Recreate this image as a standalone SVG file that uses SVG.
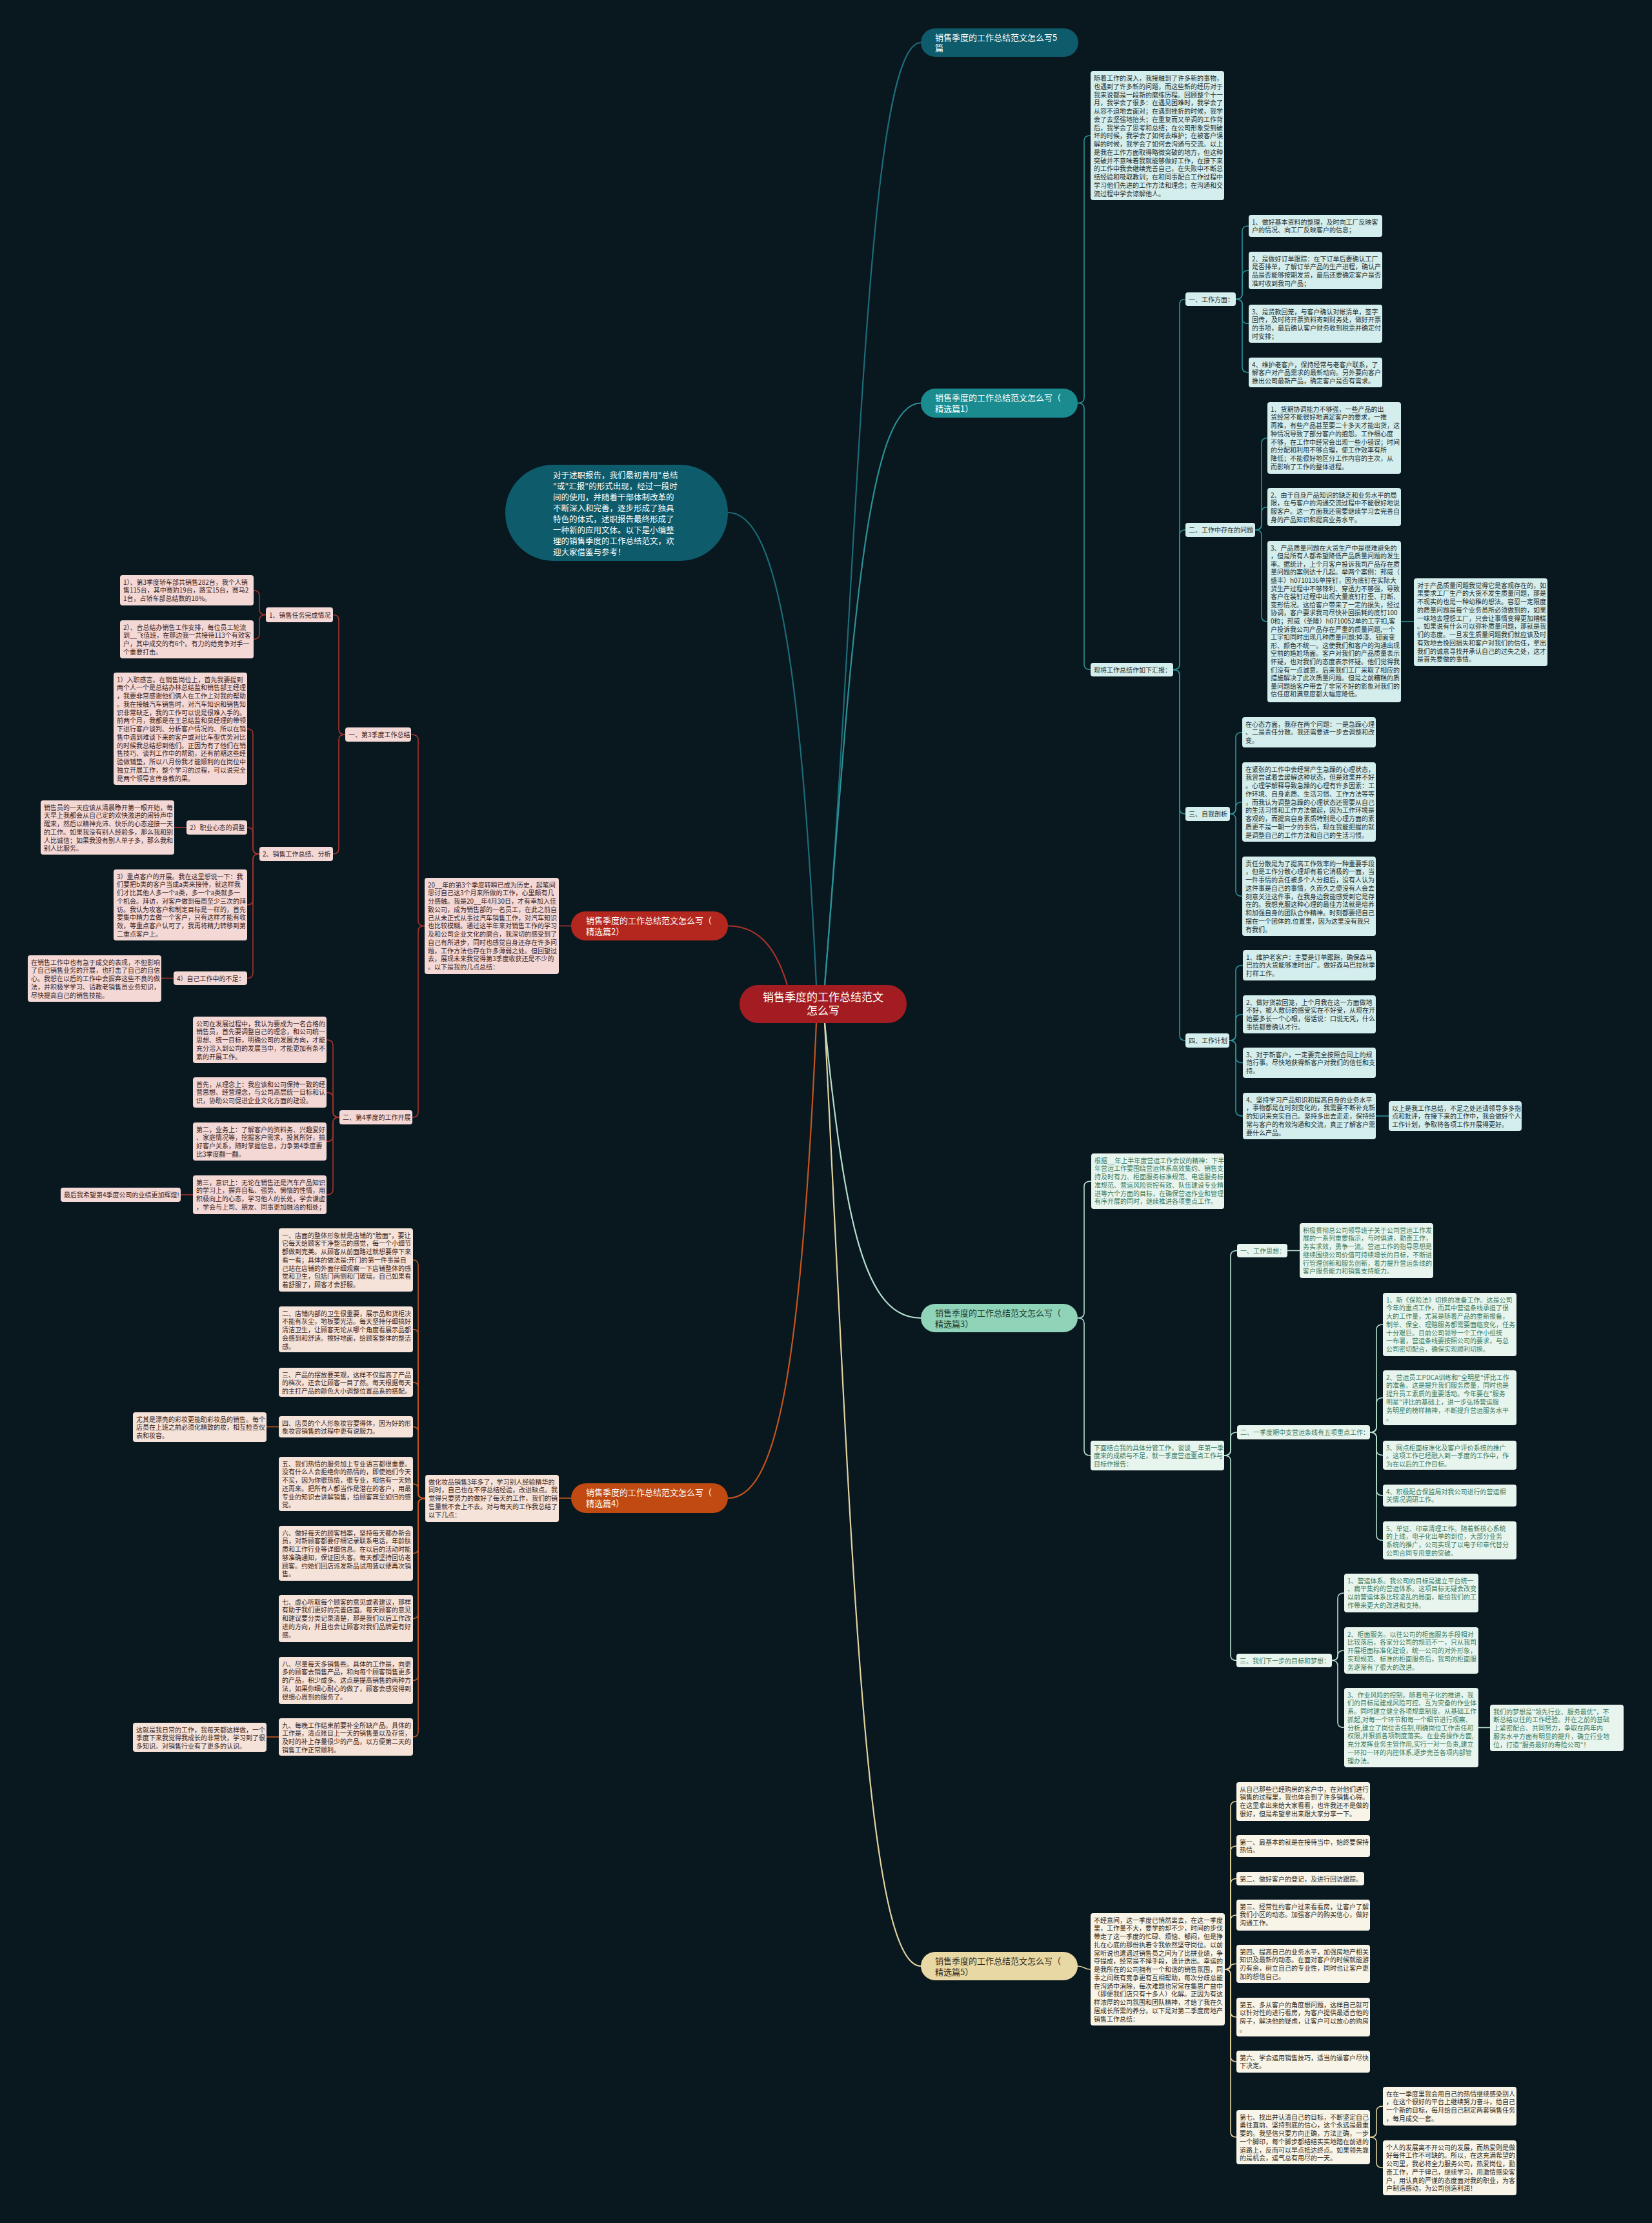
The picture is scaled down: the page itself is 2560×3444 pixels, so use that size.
<svg xmlns="http://www.w3.org/2000/svg" width="2560" height="3444" viewBox="0 0 2560 3444">
<style>
text{font-family:"Noto Sans CJK SC","Noto Sans",sans-serif}
.t{font-size:10px}
.h{font-size:13px}
.k1{fill:#1f2d2d}.k2{fill:#3a1e1e}.k3{fill:#3b7a5c}.k4{fill:#3a2418}.k5{fill:#2e2a22}.w{fill:#ffffff}
.f1{fill:#d4eded}.f2{fill:#f3d8d5}.f3{fill:#e8f5ef}.f4{fill:#f5e2d8}.f5{fill:#f8f4e8}
#connectors path{fill:none;stroke-width:1.6}
.e0{stroke:#1c6c78}.e1{stroke:#2b9296}.e2{stroke:#a9332b}.e3{stroke:#b5e0ce}.e4{stroke:#c6561d}.e5{stroke:#e2d3a0}
#connectors path.r{stroke-width:2.2}
</style>
<rect width="2560" height="3444" fill="#09171f"/>
<g id="connectors">
<path class="e0 r" d="M1278 1526 C1330 900 1340 66 1427 66"/>
<path class="e1 r" d="M1278 1526 C1320 1000 1340 624.5 1427 624.5"/>
<path class="e0 r" d="M1265 1526 C1240 1000 1200 794 1128 794"/>
<path class="e2 r" d="M1220 1526 C1200 1460 1170 1434.5 1128 1434.5"/>
<path class="e3 r" d="M1278 1585 C1310 1900 1340 2042 1427 2042"/>
<path class="e4 r" d="M1265 1585 C1240 2150 1200 2321 1128 2321"/>
<path class="e5 r" d="M1278 1585 C1320 2400 1340 3046 1427 3046"/>
<path class="e1" d="M1670 624.5 Q1680 624.5 1680 616.5 V218 Q1680 210 1690 210"/>
<path class="e1" d="M1670 624.5 Q1680 624.5 1680 632.5 V1029.5 Q1680 1037.5 1690 1037.5"/>
<path class="e1" d="M1818 1037.5 Q1828 1037.5 1828 1029.5 V471.5 Q1828 463.5 1837 463.5"/>
<path class="e1" d="M1818 1037.5 Q1828 1037.5 1828 1029.5 V829 Q1828 821 1837 821"/>
<path class="e1" d="M1818 1037.5 Q1828 1037.5 1828 1045.5 V1253 Q1828 1261 1837 1261"/>
<path class="e1" d="M1818 1037.5 Q1828 1037.5 1828 1045.5 V1604 Q1828 1612 1837 1612"/>
<path class="e1" d="M1915 463.5 Q1925 463.5 1925 455.5 V358 Q1925 350 1935 350"/>
<path class="e1" d="M1915 463.5 Q1925 463.5 1925 455.5 V427 Q1925 419 1935 419"/>
<path class="e1" d="M1915 463.5 Q1925 463.5 1925 471.5 V493.5 Q1925 501.5 1935 501.5"/>
<path class="e1" d="M1915 463.5 Q1925 463.5 1925 471.5 V569 Q1925 577 1935 577"/>
<path class="e1" d="M1945 821 Q1955 821 1955 813 V686.5 Q1955 678.5 1964 678.5"/>
<path class="e1" d="M1945 821 Q1955 821 1955 813 V793.5 Q1955 785.5 1964 785.5"/>
<path class="e1" d="M1945 821 Q1955 821 1955 829 V955 Q1955 963 1964 963"/>
<path class="e1" d="M2171 963 H2191"/>
<path class="e1" d="M1906 1261 Q1915 1261 1915 1253 V1142.5 Q1915 1134.5 1925 1134.5"/>
<path class="e1" d="M1906 1261 Q1915 1261 1915 1253 V1250.5 Q1915 1242.5 1925 1242.5"/>
<path class="e1" d="M1906 1261 Q1915 1261 1915 1269 V1380.5 Q1915 1388.5 1925 1388.5"/>
<path class="e1" d="M1905 1612 Q1915 1612 1915 1604 V1503.5 Q1915 1495.5 1926 1495.5"/>
<path class="e1" d="M1905 1612 Q1915 1612 1915 1604 V1579.5 Q1915 1571.5 1926 1571.5"/>
<path class="e1" d="M1905 1612 Q1915 1612 1915 1620 V1638.5 Q1915 1646.5 1926 1646.5"/>
<path class="e1" d="M1905 1612 Q1915 1612 1915 1620 V1721 Q1915 1729 1926 1729"/>
<path class="e1" d="M2132 1729 H2152"/>
<path class="e3" d="M1670 2042 Q1680 2042 1680 2034 V1838 Q1680 1830 1691 1830"/>
<path class="e3" d="M1670 2042 Q1680 2042 1680 2050 V2247 Q1680 2255 1690 2255"/>
<path class="e3" d="M1897 2255 Q1907 2255 1907 2247 V1945.5 Q1907 1937.5 1917 1937.5"/>
<path class="e3" d="M1897 2255 Q1907 2255 1907 2247 V2227 Q1907 2219 1917 2219"/>
<path class="e3" d="M1897 2255 Q1907 2255 1907 2263 V2564.5 Q1907 2572.5 1916 2572.5"/>
<path class="e3" d="M1995 1937.5 H2014"/>
<path class="e3" d="M2123 2219 Q2133 2219 2133 2211 V2060 Q2133 2052 2143 2052"/>
<path class="e3" d="M2123 2219 Q2133 2219 2133 2211 V2173.5 Q2133 2165.5 2143 2165.5"/>
<path class="e3" d="M2123 2219 Q2133 2219 2133 2227 V2246.5 Q2133 2254.5 2143 2254.5"/>
<path class="e3" d="M2123 2219 Q2133 2219 2133 2227 V2309 Q2133 2317 2143 2317"/>
<path class="e3" d="M2123 2219 Q2133 2219 2133 2227 V2378.5 Q2133 2386.5 2143 2386.5"/>
<path class="e3" d="M2064 2572.5 Q2073 2572.5 2073 2564.5 V2476 Q2073 2468 2083 2468"/>
<path class="e3" d="M2064 2572.5 Q2073 2572.5 2073 2565 Q2073 2557 2083 2557"/>
<path class="e3" d="M2064 2572.5 Q2073 2572.5 2073 2580.5 V2668.5 Q2073 2676.5 2083 2676.5"/>
<path class="e3" d="M2291 2676.5 H2309"/>
<path class="e5" d="M1670 3046 C1680 3046 1680 3051 1690 3051"/>
<path class="e5" d="M1898 3051 Q1907 3051 1907 3043 V2799 Q1907 2791 1916 2791"/>
<path class="e5" d="M1898 3051 Q1907 3051 1907 3043 V2868 Q1907 2860 1916 2860"/>
<path class="e5" d="M1898 3051 Q1907 3051 1907 3043 V2918.5 Q1907 2910.5 1916 2910.5"/>
<path class="e5" d="M1898 3051 Q1907 3051 1907 3043 V2975 Q1907 2967 1916 2967"/>
<path class="e5" d="M1898 3051 Q1907 3051 1907 3047 Q1907 3042.5 1916 3042.5"/>
<path class="e5" d="M1898 3051 Q1907 3051 1907 3059 V3117 Q1907 3125 1916 3125"/>
<path class="e5" d="M1898 3051 Q1907 3051 1907 3059 V3186 Q1907 3194 1916 3194"/>
<path class="e5" d="M1898 3051 Q1907 3051 1907 3059 V3303 Q1907 3311 1916 3311"/>
<path class="e5" d="M2123 3311 Q2133 3311 2133 3303 V3271 Q2133 3263 2143 3263"/>
<path class="e5" d="M2123 3311 Q2133 3311 2133 3319 V3350.5 Q2133 3358.5 2143 3358.5"/>
<path class="e2" d="M885 1434.5 H866"/>
<path class="e2" d="M658 1434.5 Q648 1434.5 648 1426.5 V1146 Q648 1138 637 1138"/>
<path class="e2" d="M658 1434.5 Q648 1434.5 648 1442.5 V1723 Q648 1731 639 1731"/>
<path class="e2" d="M535 1138 Q525 1138 525 1130 V960.5 Q525 952.5 516 952.5"/>
<path class="e2" d="M535 1138 Q525 1138 525 1146 V1315 Q525 1323 516 1323"/>
<path class="e2" d="M412 952.5 Q402 952.5 402 944.5 V922.5 Q402 914.5 392 914.5"/>
<path class="e2" d="M412 952.5 Q402 952.5 402 960.5 V982.5 Q402 990.5 392 990.5"/>
<path class="e2" d="M402 1323 Q392 1323 392 1315 V1137 Q392 1129 383 1129"/>
<path class="e2" d="M402 1323 Q392 1323 392 1315 V1290 Q392 1282 383 1282"/>
<path class="e2" d="M402 1323 Q392 1323 392 1331 V1394 Q392 1402 383 1402"/>
<path class="e2" d="M402 1323 Q392 1323 392 1331 V1507.5 Q392 1515.5 383 1515.5"/>
<path class="e2" d="M289 1282 H270"/>
<path class="e2" d="M269 1515.5 H250"/>
<path class="e2" d="M526 1731 Q516 1731 516 1723 V1619 Q516 1611 506 1611"/>
<path class="e2" d="M526 1731 Q516 1731 516 1723 V1700.5 Q516 1692.5 506 1692.5"/>
<path class="e2" d="M526 1731 Q516 1731 516 1739 V1760.5 Q516 1768.5 506 1768.5"/>
<path class="e2" d="M526 1731 Q516 1731 516 1739 V1843 Q516 1851 506 1851"/>
<path class="e2" d="M299 1851 H280"/>
<path class="e4" d="M885 2321 H866"/>
<path class="e4" d="M659 2321.5 Q648 2321.5 648 2313.5 V1960 Q648 1952 640 1952"/>
<path class="e4" d="M659 2321.5 Q648 2321.5 648 2313.5 V2067.5 Q648 2059.5 640 2059.5"/>
<path class="e4" d="M659 2321.5 Q648 2321.5 648 2313.5 V2149.5 Q648 2141.5 640 2141.5"/>
<path class="e4" d="M659 2321.5 Q648 2321.5 648 2313.5 V2218.5 Q648 2210.5 640 2210.5"/>
<path class="e4" d="M659 2321.5 Q648 2321.5 648 2313.5 V2307 Q648 2299 640 2299"/>
<path class="e4" d="M659 2321.5 Q648 2321.5 648 2329.5 V2398.5 Q648 2406.5 640 2406.5"/>
<path class="e4" d="M659 2321.5 Q648 2321.5 648 2329.5 V2499.5 Q648 2507.5 640 2507.5"/>
<path class="e4" d="M659 2321.5 Q648 2321.5 648 2329.5 V2595.5 Q648 2603.5 640 2603.5"/>
<path class="e4" d="M659 2321.5 Q648 2321.5 648 2329.5 V2683 Q648 2691 640 2691"/>
<path class="e4" d="M432 2210.5 H413"/>
<path class="e4" d="M432 2691 H413"/>
</g>

<g id="root"><rect x="1146" y="1526" width="259" height="59" rx="29" fill="#a31c22"/><text class="w" font-size="17" text-anchor="middle" x="1275.5" y="1551"><tspan x="1275.5">销售季度的工作总结范文</tspan><tspan x="1275.5" dy="21">怎么写</tspan></text></g>

<g id="title5"><rect x="1427" y="44" width="244" height="44" rx="22" fill="#0d5b6b"/><text class="h w" x="1449" y="62.5"><tspan x="1449">销售季度的工作总结范文怎么写5</tspan><tspan x="1449" dy="16.5">篇</tspan></text></g>

<g id="intro"><rect x="783" y="720" width="345" height="149" rx="74" fill="#0d5b6b"/><text class="w" font-size="12.5" x="857" y="741"><tspan x="857">对于述职报告，我们最初曾用"总结</tspan><tspan x="857" dy="17">"或"汇报"的形式出现，经过一段时</tspan><tspan x="857" dy="17">间的使用，并随着干部体制改革的</tspan><tspan x="857" dy="17">不断深入和完善，逐步形成了独具</tspan><tspan x="857" dy="17">特色的体式，述职报告最终形成了</tspan><tspan x="857" dy="17">一种新的应用文体。以下是小编整</tspan><tspan x="857" dy="17">理的销售季度的工作总结范文，欢</tspan><tspan x="857" dy="17">迎大家借鉴与参考！</tspan></text></g>

<!-- Branch 1 -->
<g id="b1"><rect x="1427" y="602" width="243" height="45" rx="22" fill="#1a8b8f"/><text class="h w" x="1449" y="621"><tspan x="1449">销售季度的工作总结范文怎么写（</tspan><tspan x="1449" dy="16.5">精选篇1）</tspan></text></g>
<g id="b1-intro"><rect class="f1" x="1690" y="110" width="207" height="200" rx="4"/><text class="t k1" x="1695" y="125"><tspan x="1695">随着工作的深入，我接触到了许多新的事物，</tspan><tspan x="1695" dy="12.75">也遇到了许多新的问题，而这些新的经历对于</tspan><tspan x="1695" dy="12.75">我来说都是一段新的磨练历程。回顾整个十一</tspan><tspan x="1695" dy="12.75">月，我学会了很多：在遇见困难时，我学会了</tspan><tspan x="1695" dy="12.75">从容不迫地去面对；在遇到挫折的时候，我学</tspan><tspan x="1695" dy="12.75">会了去坚强地抬头；在重复而又单调的工作背</tspan><tspan x="1695" dy="12.75">后，我学会了思考和总结；在公司形象受到破</tspan><tspan x="1695" dy="12.75">坏的时候，我学会了如何去维护；在被客户误</tspan><tspan x="1695" dy="12.75">解的时候，我学会了如何去沟通与交流。以上</tspan><tspan x="1695" dy="12.75">是我在工作方面取得略微突破的地方，但这种</tspan><tspan x="1695" dy="12.75">突破并不意味着我就能够做好工作，在接下来</tspan><tspan x="1695" dy="12.75">的工作中我会继续完善自己，在失败中不断总</tspan><tspan x="1695" dy="12.75">结经验和吸取教训；在和同事配合工作过程中</tspan><tspan x="1695" dy="12.75">学习他们先进的工作方法和理念；在沟通和交</tspan><tspan x="1695" dy="12.75">流过程中学会谅解他人。</tspan></text></g>
<g id="b1-report"><rect class="f1" x="1690" y="1027" width="128" height="21" rx="4"/><text class="t k1" x="1695" y="1041.5">现将工作总结作如下汇报：</text></g>
<g id="b1-s1"><rect class="f1" x="1837" y="453" width="78" height="21" rx="4"/><text class="t k1" x="1842" y="467.5">一、工作方面：</text></g>
<g id="b1-w1"><rect class="f1" x="1935" y="333" width="207" height="34" rx="4"/><text class="t k1" x="1940" y="347.5"><tspan x="1940">1、做好基本资料的整理，及时向工厂反映客</tspan><tspan x="1940" dy="12.75">户的情况、向工厂反映客户的信息；</tspan></text></g>
<g id="b1-w2"><rect class="f1" x="1935" y="390" width="207" height="58" rx="4"/><text class="t k1" x="1940" y="404.5"><tspan x="1940">2、是做好订单跟踪：在下订单后要确认工厂</tspan><tspan x="1940" dy="12.75">是否排单，了解订单产品的生产进程，确认产</tspan><tspan x="1940" dy="12.75">品是否能够按期发货，最后还要确定客户是否</tspan><tspan x="1940" dy="12.75">准时收到我司产品；</tspan></text></g>
<g id="b1-w3"><rect class="f1" x="1935" y="472" width="207" height="59" rx="4"/><text class="t k1" x="1940" y="486.5"><tspan x="1940">3、是货款回笼，与客户确认对帐清单，签字</tspan><tspan x="1940" dy="12.75">回传，及时将开票资料寄到财务处，做好开票</tspan><tspan x="1940" dy="12.75">的事项，最后确认客户财务收到税票并确定付</tspan><tspan x="1940" dy="12.75">时安排；</tspan></text></g>
<g id="b1-w4"><rect class="f1" x="1935" y="554" width="207" height="46" rx="4"/><text class="t k1" x="1940" y="568.5"><tspan x="1940">4、维护老客户，保持经常与老客户联系，了</tspan><tspan x="1940" dy="12.75">解客户对产品需求的最新动向。另外要向客户</tspan><tspan x="1940" dy="12.75">推出公司最新产品，确定客户是否有需求。</tspan></text></g>
<g id="b1-s2"><rect class="f1" x="1837" y="810" width="108" height="22" rx="4"/><text class="t k1" x="1842" y="825">二、工作中存在的问题</text></g>
<g id="b1-p1"><rect class="f1" x="1964" y="623" width="207" height="111" rx="4"/><text class="t k1" x="1969" y="637.5"><tspan x="1969">1、货期协调能力不够强，一些产品的出</tspan><tspan x="1969" dy="12.75">货经常不能很好地满足客户的要求，一推</tspan><tspan x="1969" dy="12.75">再推，有些产品甚至要二十多天才能出货，这</tspan><tspan x="1969" dy="12.75">种情况导致了部分客户的抱怨。工作细心度</tspan><tspan x="1969" dy="12.75">不够，在工作中经常会出现一些小错误；时间</tspan><tspan x="1969" dy="12.75">的分配和利用不够合理，使工作效率有所</tspan><tspan x="1969" dy="12.75">降低；不能很好地区分工作内容的主次，从</tspan><tspan x="1969" dy="12.75">而影响了工作的整体进程。</tspan></text></g>
<g id="b1-p2"><rect class="f1" x="1964" y="756" width="207" height="59" rx="4"/><text class="t k1" x="1969" y="770.5"><tspan x="1969">2、由于自身产品知识的缺乏和业务水平的局</tspan><tspan x="1969" dy="12.75">限，在与客户的沟通交流过程中不能很好地说</tspan><tspan x="1969" dy="12.75">服客户。这一方面我还需要继续学习去完善自</tspan><tspan x="1969" dy="12.75">身的产品知识和提高业务水平。</tspan></text></g>
<g id="b1-p3"><rect class="f1" x="1964" y="838" width="207" height="250" rx="4"/><text class="t k1" x="1969" y="852.5"><tspan x="1969">3、产品质量问题在大货生产中是很难避免的</tspan><tspan x="1969" dy="12.6">，但是所有人都希望降低产品质量问题的发生</tspan><tspan x="1969" dy="12.6">率。据统计，上个月客户投诉我司产品存在质</tspan><tspan x="1969" dy="12.6">量问题的案例达十几起。举两个案例：邦威（</tspan><tspan x="1969" dy="12.6">盛丰）h0710136单撞钉，因为底钉在实际大</tspan><tspan x="1969" dy="12.6">货生产过程中不够锋利、穿透力不够强，导致</tspan><tspan x="1969" dy="12.6">客户在装钉过程中出现大量底钉打歪、打断、</tspan><tspan x="1969" dy="12.6">变形情况。这给客户带来了一定的损失，经过</tspan><tspan x="1969" dy="12.6">协调，客户要求我司尽快补回损耗的底钉100</tspan><tspan x="1969" dy="12.6">0粒；邦威（圣隆）h0710052单的工字扣,客</tspan><tspan x="1969" dy="12.6">户投诉我公司产品存在严重的质量问题,一个</tspan><tspan x="1969" dy="12.6">工字扣同时出现几种质量问题:掉漆、钮面变</tspan><tspan x="1969" dy="12.6">形、颜色不统一。这使我们和客户的沟通出现</tspan><tspan x="1969" dy="12.6">空前的尴尬场面。客户对我们的产品质量表示</tspan><tspan x="1969" dy="12.6">怀疑，也对我们的态度表示怀疑。他们觉得我</tspan><tspan x="1969" dy="12.6">们没有一点诚意。后来我们工厂采取了相应的</tspan><tspan x="1969" dy="12.6">措施解决了此次质量问题。但是之前糟糕的质</tspan><tspan x="1969" dy="12.6">量问题给客户带去了非常不好的影象对我们的</tspan><tspan x="1969" dy="12.6">信任度和满意度都大幅度降低。</tspan></text></g>
<g id="b1-p3note"><rect class="f1" x="2191" y="896" width="207" height="136" rx="4"/><text class="t k1" x="2196" y="910.5"><tspan x="2196">对于产品质量问题我觉得它是客观存在的，如</tspan><tspan x="2196" dy="12.75">果要求工厂生产的大货不发生质量问题，那是</tspan><tspan x="2196" dy="12.75">不现实的也是一种幼稚的想法。容忍一定限度</tspan><tspan x="2196" dy="12.75">的质量问题是每个业务员所必须做到的，如果</tspan><tspan x="2196" dy="12.75">一味地去埋怨工厂，只会让事情变得更加糟糕</tspan><tspan x="2196" dy="12.75">。如果说有什么可以弥补质量问题，那就是我</tspan><tspan x="2196" dy="12.75">们的态度。一旦发生质量问题我们就应该及时</tspan><tspan x="2196" dy="12.75">有效地去挽回损失和客户对我们的信任，拿出</tspan><tspan x="2196" dy="12.75">我们的诚意寻找并承认自己的过失之处，这才</tspan><tspan x="2196" dy="12.75">是首先要做的事情。</tspan></text></g>
<g id="b1-s3"><rect class="f1" x="1837" y="1250" width="69" height="22" rx="4"/><text class="t k1" x="1842" y="1265">三、自我剖析</text></g>
<g id="b1-a1"><rect class="f1" x="1925" y="1111" width="207" height="47" rx="4"/><text class="t k1" x="1930" y="1125.5"><tspan x="1930">在心态方面，我存在两个问题：一是急躁心理</tspan><tspan x="1930" dy="12.75">、二是责任分散。我还需要进一步去调整和改</tspan><tspan x="1930" dy="12.75">变。</tspan></text></g>
<g id="b1-a2"><rect class="f1" x="1925" y="1181" width="207" height="123" rx="4"/><text class="t k1" x="1930" y="1195.5"><tspan x="1930">在紧张的工作中会经常产生急躁的心理状态，</tspan><tspan x="1930" dy="12.75">我曾尝试着去缓解这种状态，但是效果并不好</tspan><tspan x="1930" dy="12.75">。心理学解释导致急躁的心理有许多因素：工</tspan><tspan x="1930" dy="12.75">作环境、自身素质、生活习惯、工作方法等等</tspan><tspan x="1930" dy="12.75">，而我认为调整急躁的心理状态还需要从自己</tspan><tspan x="1930" dy="12.75">的生活习惯和工作方法做起，因为工作环境是</tspan><tspan x="1930" dy="12.75">客观的，而提高自身素质特别是心理方面的素</tspan><tspan x="1930" dy="12.75">质更不是一朝一夕的事情，现在我能把握的就</tspan><tspan x="1930" dy="12.75">是调整自己的工作方法和自己的生活习惯。</tspan></text></g>
<g id="b1-a3"><rect class="f1" x="1925" y="1327" width="207" height="123" rx="4"/><text class="t k1" x="1930" y="1341.5"><tspan x="1930">责任分散是为了提高工作效率的一种重要手段</tspan><tspan x="1930" dy="12.75">，但是工作分散心理却有着它消极的一面，当</tspan><tspan x="1930" dy="12.75">一件事情的责任被多个人分担后，没有人认为</tspan><tspan x="1930" dy="12.75">这件事是自己的事情，久而久之便没有人会去</tspan><tspan x="1930" dy="12.75">刻意关注这件事，在我身边我能感受到它是存</tspan><tspan x="1930" dy="12.75">在的。我想克服这种心理的最佳方法就是培养</tspan><tspan x="1930" dy="12.75">和加强自身的团队合作精神。时刻都要把自己</tspan><tspan x="1930" dy="12.75">摆在一个团体的.位置里，因为这里没有我只</tspan><tspan x="1930" dy="12.75">有我们。</tspan></text></g>
<g id="b1-s4"><rect class="f1" x="1837" y="1601" width="68" height="22" rx="4"/><text class="t k1" x="1842" y="1616">四、工作计划</text></g>
<g id="b1-q1"><rect class="f1" x="1926" y="1472" width="206" height="47" rx="4"/><text class="t k1" x="1931" y="1486.5"><tspan x="1931">1、维护老客户：主要是订单跟踪，确保森马</tspan><tspan x="1931" dy="12.75">巴拉的大货能够准时出厂。做好森马巴拉秋季</tspan><tspan x="1931" dy="12.75">打样工作。</tspan></text></g>
<g id="b1-q2"><rect class="f1" x="1926" y="1542" width="206" height="59" rx="4"/><text class="t k1" x="1931" y="1556.5"><tspan x="1931">2、做好货款回笼，上个月我在这一方面做地</tspan><tspan x="1931" dy="12.75">不好，被人敷衍的感受实在不好受，从现在开</tspan><tspan x="1931" dy="12.75">始要多长一个心眼，俗话说：口说无凭，什么</tspan><tspan x="1931" dy="12.75">事情都要确认才行。</tspan></text></g>
<g id="b1-q3"><rect class="f1" x="1926" y="1623" width="206" height="47" rx="4"/><text class="t k1" x="1931" y="1637.5"><tspan x="1931">3、对于新客户，一定要完全按照合同上的规</tspan><tspan x="1931" dy="12.75">范行事。尽快地获得新客户对我们的信任和支</tspan><tspan x="1931" dy="12.75">持。</tspan></text></g>
<g id="b1-q4"><rect class="f1" x="1926" y="1693" width="206" height="72" rx="4"/><text class="t k1" x="1931" y="1707.5"><tspan x="1931">4、坚持学习产品知识和提高自身的业务水平</tspan><tspan x="1931" dy="12.75">，事物都是在时刻变化的，我需要不断补充新</tspan><tspan x="1931" dy="12.75">的知识来充实自己。坚持多出去走走，保持经</tspan><tspan x="1931" dy="12.75">常与客户的有效沟通和交流，真正了解客户需</tspan><tspan x="1931" dy="12.75">要什么产品。</tspan></text></g>
<g id="b1-end"><rect class="f1" x="2152" y="1706" width="206" height="46" rx="4"/><text class="t k1" x="2157" y="1720.5"><tspan x="2157">以上是我工作总结，不足之处还请领导多多指</tspan><tspan x="2157" dy="12.75">点和批评，在接下来的工作中，我会做好个人</tspan><tspan x="2157" dy="12.75">工作计划，争取将各项工作开展得更好。</tspan></text></g>

<!-- Branch 3 -->
<g id="b3"><rect x="1427" y="2020" width="243" height="44" rx="22" fill="#8fd3b9"/><text class="h" fill="#1e3a2f" x="1449" y="2039"><tspan x="1449">销售季度的工作总结范文怎么写（</tspan><tspan x="1449" dy="16.5">精选篇3）</tspan></text></g>
<g id="b3-intro"><rect class="f3" x="1691" y="1787" width="206" height="86" rx="4"/><text class="t k3" x="1696" y="1801.5"><tspan x="1696">根据__年上半年度营运工作会议的精神：下半</tspan><tspan x="1696" dy="12.75">年营运工作要围绕营运体系高效集约、销售支</tspan><tspan x="1696" dy="12.75">持及时有力、柜面服务标准规范、电话服务标</tspan><tspan x="1696" dy="12.75">准规范、营运风险管控有效、队伍建设专业精</tspan><tspan x="1696" dy="12.75">进等六个方面的目标，在确保营运作业和管理</tspan><tspan x="1696" dy="12.75">有序开展的同时，继续推进各项重点工作。</tspan></text></g>
<g id="b3-report"><rect class="f3" x="1690" y="2232" width="207" height="46" rx="4"/><text class="t k3" x="1695" y="2246.5"><tspan x="1695">下面结合我的具体分管工作，谈谈__年第一季</tspan><tspan x="1695" dy="12.75">度来的成绩与不足，就一季度营运重点工作与</tspan><tspan x="1695" dy="12.75">目标作报告：</tspan></text></g>
<g id="b3-s1"><rect class="f3" x="1917" y="1927" width="78" height="21" rx="4"/><text class="t k3" x="1922" y="1941.5">一、工作思想：</text></g>
<g id="b3-s1leaf"><rect class="f3" x="2014" y="1895" width="207" height="85" rx="4"/><text class="t k3" x="2019" y="1909.5"><tspan x="2019">积极贯彻总公司领导班子关于公司营运工作发</tspan><tspan x="2019" dy="12.75">展的一系列重要指示，与时俱进，勤奋工作，</tspan><tspan x="2019" dy="12.75">务实求效，勇争一流。营运工作的指导思想是</tspan><tspan x="2019" dy="12.75">继续围绕公司价值可持续增长的目标，不断进</tspan><tspan x="2019" dy="12.75">行管理创新和服务创新，着力提升营运条线的</tspan><tspan x="2019" dy="12.75">客户服务能力和销售支持能力。</tspan></text></g>
<g id="b3-s2"><rect class="f3" x="1917" y="2208" width="206" height="22" rx="4"/><text class="t k3" x="1922" y="2223">二、一季度期中支营运条线有五项重点工作：</text></g>
<g id="b3-i1"><rect class="f3" x="2143" y="2003" width="207" height="98" rx="4"/><text class="t k3" x="2148" y="2017.5"><tspan x="2148">1、新《保险法》切换的准备工作。这是公司</tspan><tspan x="2148" dy="12.75">今年的重点工作，而其中营运条线承担了很</tspan><tspan x="2148" dy="12.75">大的工作量，尤其是随着产品的重新报备，</tspan><tspan x="2148" dy="12.75">制单、保全、理赔服务都需要面临变化，任务</tspan><tspan x="2148" dy="12.75">十分艰巨。目前公司领导一个工作小组统</tspan><tspan x="2148" dy="12.75">一布署，营运条线要按照公司的要求，与总</tspan><tspan x="2148" dy="12.75">公司密切配合，确保实现顺利切换。</tspan></text></g>
<g id="b3-i2"><rect class="f3" x="2143" y="2123" width="207" height="85" rx="4"/><text class="t k3" x="2148" y="2137.5"><tspan x="2148">2、营运员工PDCA训练和"全明星"评比工作</tspan><tspan x="2148" dy="12.75">的准备。这是提升我们服务质量，同时也是</tspan><tspan x="2148" dy="12.75">提升员工素质的重要活动。今年要在"服务</tspan><tspan x="2148" dy="12.75">明星"评比的基础上，进一步弘扬营运服</tspan><tspan x="2148" dy="12.75">务明星的榜样精神，不断提升营运服务水平</tspan><tspan x="2148" dy="12.75">。</tspan></text></g>
<g id="b3-i3"><rect class="f3" x="2143" y="2232" width="207" height="45" rx="4"/><text class="t k3" x="2148" y="2246.5"><tspan x="2148">3、网点柜面标准化及客户评价系统的推广</tspan><tspan x="2148" dy="12.75">。这项工作已经融入到一季度的工作中，作</tspan><tspan x="2148" dy="12.75">为在以后的工作目标。</tspan></text></g>
<g id="b3-i4"><rect class="f3" x="2143" y="2300" width="207" height="34" rx="4"/><text class="t k3" x="2148" y="2314.5"><tspan x="2148">4、积极配合保监局对我公司进行的营运相</tspan><tspan x="2148" dy="12.75">关情况调研工作。</tspan></text></g>
<g id="b3-i5"><rect class="f3" x="2143" y="2357" width="207" height="59" rx="4"/><text class="t k3" x="2148" y="2371.5"><tspan x="2148">5、单证、印章清理工作。随着新核心系统</tspan><tspan x="2148" dy="12.75">的上线，电子化出单的到位，大部分业务</tspan><tspan x="2148" dy="12.75">系统的推广，公司实现了以电子印章代替分</tspan><tspan x="2148" dy="12.75">公司合同专用章的突破。</tspan></text></g>
<g id="b3-s3"><rect class="f3" x="1916" y="2562" width="148" height="21" rx="4"/><text class="t k3" x="1921" y="2576.5">三、我们下一步的目标和梦想：</text></g>
<g id="b3-g1"><rect class="f3" x="2083" y="2438" width="208" height="60" rx="4"/><text class="t k3" x="2088" y="2452.5"><tspan x="2088">1、营运体系。我公司的目标是建立平台统一</tspan><tspan x="2088" dy="12.75">、扁平集约的营运体系。这项目标无疑会改变</tspan><tspan x="2088" dy="12.75">以前营运体系比较凌乱的局面，能给我们的工</tspan><tspan x="2088" dy="12.75">作带来更大的改进和支持。</tspan></text></g>
<g id="b3-g2"><rect class="f3" x="2083" y="2521" width="208" height="72" rx="4"/><text class="t k3" x="2088" y="2535.5"><tspan x="2088">2、柜面服务。以往公司的柜面服务手段相对</tspan><tspan x="2088" dy="12.75">比较落后，各家分公司的规范不一，只从我司</tspan><tspan x="2088" dy="12.75">开展柜面标准化建设，统一公司的对外形象，</tspan><tspan x="2088" dy="12.75">实现规范、标准的柜面服务后，我司的柜面服</tspan><tspan x="2088" dy="12.75">务逐渐有了很大的改进。</tspan></text></g>
<g id="b3-g3"><rect class="f3" x="2083" y="2615" width="208" height="123" rx="4"/><text class="t k3" x="2088" y="2629.5"><tspan x="2088">3、作业风险的控制。随着电子化的推进，我</tspan><tspan x="2088" dy="12.75">们的目标是建成风险可控、互为灾备的作业体</tspan><tspan x="2088" dy="12.75">系。同时建立健全各项规章制度。从基础工作</tspan><tspan x="2088" dy="12.75">抓起,对每一个环节和每一个细节进行观察、</tspan><tspan x="2088" dy="12.75">分析,建立了岗位责任制,明确岗位工作责任和</tspan><tspan x="2088" dy="12.75">权限,并狠抓各项制度落实。在业务操作方面,</tspan><tspan x="2088" dy="12.75">充分发挥业务主管作用,实行一对一负责,建立</tspan><tspan x="2088" dy="12.75">一环扣一环的内控体系,逐步完善各项内部管</tspan><tspan x="2088" dy="12.75">理办法。</tspan></text></g>
<g id="b3-dream"><rect class="f3" x="2309" y="2641" width="207" height="72" rx="4"/><text class="t k3" x="2314" y="2655.5"><tspan x="2314">我们的梦想是"领先行业、服务最优"，不</tspan><tspan x="2314" dy="12.75">断总结以往的工作经验。并在之前的基础</tspan><tspan x="2314" dy="12.75">上紧密配合、共同努力，争取在两年内</tspan><tspan x="2314" dy="12.75">服务水平方面有明显的提升，确立行业地</tspan><tspan x="2314" dy="12.75">位，打造"服务最好的寿险公司"！</tspan></text></g>

<!-- Branch 5 -->
<g id="b5"><rect x="1427" y="3024" width="243" height="44" rx="22" fill="#e8d8a4"/><text class="h" fill="#2e2a22" x="1449" y="3043"><tspan x="1449">销售季度的工作总结范文怎么写（</tspan><tspan x="1449" dy="16.5">精选篇5）</tspan></text></g>
<g id="b5-intro"><rect class="f5" x="1690" y="2964" width="208" height="174" rx="4"/><text class="t k5" x="1695" y="2978.5"><tspan x="1695">不经意间，这一季度已悄然离去，在这一季度</tspan><tspan x="1695" dy="12.75">里，工作量不大，要学的却不少，时间的步伐</tspan><tspan x="1695" dy="12.75">带走了这一季度的忙碌、烦恼、郁闷，但是挣</tspan><tspan x="1695" dy="12.75">扎在心底的那份执着令我依然坚守岗位。以前</tspan><tspan x="1695" dy="12.75">常听说也遭遇过销售员之间为了比拼业绩，争</tspan><tspan x="1695" dy="12.75">夺提成，经常是不择手段，诡计迭出。幸运的</tspan><tspan x="1695" dy="12.75">是我所在的公司拥有一个和谐的销售氛围，同</tspan><tspan x="1695" dy="12.75">事之间既有竞争更有互相帮助，每次分歧总能</tspan><tspan x="1695" dy="12.75">在沟通中消除，每次难题也常常在集思广益中</tspan><tspan x="1695" dy="12.75">（即便我们店只有十多人）化解。正因为有这</tspan><tspan x="1695" dy="12.75">样浓厚的公司氛围和团队精神，才给了我在久</tspan><tspan x="1695" dy="12.75">居成长所需的养分。以下是对第二季度房地产</tspan><tspan x="1695" dy="12.75">销售工作总结：</tspan></text></g>
<g id="b5-l1"><rect class="f5" x="1916" y="2761" width="207" height="60" rx="4"/><text class="t k5" x="1921" y="2775.5"><tspan x="1921">从自己那些已经购房的客户中，在对他们进行</tspan><tspan x="1921" dy="12.75">销售的过程里，我也体会到了许多销售心得。</tspan><tspan x="1921" dy="12.75">在这里拿出来给大家看看，也许我还不是做的</tspan><tspan x="1921" dy="12.75">很好，但是希望拿出来跟大家分享一下。</tspan></text></g>
<g id="b5-l2"><rect class="f5" x="1916" y="2843" width="207" height="34" rx="4"/><text class="t k5" x="1921" y="2857.5"><tspan x="1921">第一、最基本的就是在接待当中，始终要保持</tspan><tspan x="1921" dy="12.75">热情。</tspan></text></g>
<g id="b5-l3"><rect class="f5" x="1916" y="2900" width="198" height="21" rx="4"/><text class="t k5" x="1921" y="2914.5">第二、做好客户的登记，及进行回访跟踪。</text></g>
<g id="b5-l4"><rect class="f5" x="1916" y="2943" width="207" height="48" rx="4"/><text class="t k5" x="1921" y="2957.5"><tspan x="1921">第三、经常性约客户过来看看房，让客户了解</tspan><tspan x="1921" dy="12.75">我们小区的动态。加强客户的购买信心，做好</tspan><tspan x="1921" dy="12.75">沟通工作。</tspan></text></g>
<g id="b5-l5"><rect class="f5" x="1916" y="3013" width="207" height="59" rx="4"/><text class="t k5" x="1921" y="3027.5"><tspan x="1921">第四、提高自己的业务水平，加强房地产相关</tspan><tspan x="1921" dy="12.75">知识及最新的动态。在面对客户的时候就能游</tspan><tspan x="1921" dy="12.75">刃有余，树立自己的专业性，同时也让客户更</tspan><tspan x="1921" dy="12.75">加的想信自己。</tspan></text></g>
<g id="b5-l6"><rect class="f5" x="1916" y="3095" width="207" height="60" rx="4"/><text class="t k5" x="1921" y="3109.5"><tspan x="1921">第五、多从客户的角度想问题，这样自己就可</tspan><tspan x="1921" dy="12.75">以针对性的进行看房，为客户提供最适合他的</tspan><tspan x="1921" dy="12.75">房子，解决他的疑虑，让客户可以放心的购房</tspan><tspan x="1921" dy="12.75">。</tspan></text></g>
<g id="b5-l7"><rect class="f5" x="1916" y="3177" width="207" height="34" rx="4"/><text class="t k5" x="1921" y="3191.5"><tspan x="1921">第六、学会运用销售技巧，适当的逼客户尽快</tspan><tspan x="1921" dy="12.75">下决定。</tspan></text></g>
<g id="b5-l8"><rect class="f5" x="1916" y="3269" width="207" height="84" rx="4"/><text class="t k5" x="1921" y="3283.5"><tspan x="1921">第七、找出并认清自己的目标，不断坚定自己</tspan><tspan x="1921" dy="12.75">勇往直前、坚持到底的信心，这个永远是最重</tspan><tspan x="1921" dy="12.75">要的。我坚信只要方向正确，方法正确，一步</tspan><tspan x="1921" dy="12.75">一个脚印，每个脚步都结结实实地踏在前进的</tspan><tspan x="1921" dy="12.75">道路上，反而可以早点抵达终点。如果领先靠</tspan><tspan x="1921" dy="12.75">的是机会，运气总有用尽的一天。</tspan></text></g>
<g id="b5-m1"><rect class="f5" x="2143" y="3233" width="207" height="60" rx="4"/><text class="t k5" x="2148" y="3247.5"><tspan x="2148">在在一季度里我会用自己的热情继续感染别人</tspan><tspan x="2148" dy="12.75">，在这个很好的平台上继续努力奋斗，给自己</tspan><tspan x="2148" dy="12.75">一个新的目标，每月给自己制定两套销售任务</tspan><tspan x="2148" dy="12.75">，每月成交一套。</tspan></text></g>
<g id="b5-m2"><rect class="f5" x="2143" y="3316" width="207" height="85" rx="4"/><text class="t k5" x="2148" y="3330.5"><tspan x="2148">个人的发展离不开公司的发展，而热爱则是做</tspan><tspan x="2148" dy="12.75">好每件工作不可缺的。所以，在这充满希望的</tspan><tspan x="2148" dy="12.75">公司里，我必将全力服务公司，热爱岗位，勤</tspan><tspan x="2148" dy="12.75">奋工作，严于律己，继续学习，用激情感染客</tspan><tspan x="2148" dy="12.75">户，用认真的严谨的态度面对我的职业，为客</tspan><tspan x="2148" dy="12.75">户制造感动，为公司创造利润！</tspan></text></g>

<!-- Branch 2 -->
<g id="b2"><rect x="885" y="1412" width="243" height="45" rx="22" fill="#b3271f"/><text class="h w" x="908" y="1431"><tspan x="908">销售季度的工作总结范文怎么写（</tspan><tspan x="908" dy="16.5">精选篇2）</tspan></text></g>
<g id="b2-body"><rect class="f2" x="658" y="1360" width="208" height="149" rx="4"/><text class="t k2" x="663" y="1374.5"><tspan x="663">20__年的第3个季度转瞬已成为历史，起笔间</tspan><tspan x="663" dy="12.75">思讨自己这3个月来所做的工作，心里颇有几</tspan><tspan x="663" dy="12.75">分感触。我是20__年4月30日，才有幸加入佳</tspan><tspan x="663" dy="12.75">致公司，成为销售部的一名员工，在此之前自</tspan><tspan x="663" dy="12.75">己从未正式从事过汽车销售工作，对汽车知识</tspan><tspan x="663" dy="12.75">也比较模糊。通过这半年来对销售工作的学习</tspan><tspan x="663" dy="12.75">及和公司企业文化的磨合，我深切的感受到了</tspan><tspan x="663" dy="12.75">自己有所进步，同时也感觉自身还存在许多问</tspan><tspan x="663" dy="12.75">题，工作方法也存在许多薄弱之处。但回望过</tspan><tspan x="663" dy="12.75">去，展现未来我觉得第3季度收获还是不少的</tspan><tspan x="663" dy="12.75">。以下是我的几点总结：</tspan></text></g>
<g id="b2-s1"><rect class="f2" x="535" y="1127" width="102" height="22" rx="4"/><text class="t k2" x="540" y="1142">一、第3季度工作总结</text></g>
<g id="b2-s1a"><rect class="f2" x="412" y="941" width="104" height="23" rx="4"/><text class="t k2" x="417" y="956.5">1、销售任务完成情况</text></g>
<g id="b2-a1"><rect class="f2" x="186" y="891" width="207" height="47" rx="4"/><text class="t k2" x="191" y="905.5"><tspan x="191">1）、第3季度轿车部共销售282台，我个人销</tspan><tspan x="191" dy="12.75">售115台，其中赛豹19台，路宝15台，赛马2</tspan><tspan x="191" dy="12.75">1台，占轿车部总结数的18%。</tspan></text></g>
<g id="b2-a2"><rect class="f2" x="186" y="961" width="207" height="59" rx="4"/><text class="t k2" x="191" y="975.5"><tspan x="191">2）、合总结办销售工作安排，每位员工轮流</tspan><tspan x="191" dy="12.75">到__飞值班，在那边我一共接待113个有效客</tspan><tspan x="191" dy="12.75">户，其中成交的有6个。有力的给竞争对手一</tspan><tspan x="191" dy="12.75">个重要打击。</tspan></text></g>
<g id="b2-s1b"><rect class="f2" x="402" y="1312" width="114" height="22" rx="4"/><text class="t k2" x="407" y="1327">2、销售工作总结、分析</text></g>
<g id="b2-c1"><rect class="f2" x="176" y="1042" width="207" height="174" rx="4"/><text class="t k2" x="181" y="1056.5"><tspan x="181">1）入职感言。在销售岗位上，首先我要提到</tspan><tspan x="181" dy="12.75">两个人一个是总结办林总结监和销售部王经理</tspan><tspan x="181" dy="12.75">，我要非常感谢他们俩人在工作上对我的帮助</tspan><tspan x="181" dy="12.75">。我在接触汽车销售时，对汽车知识和销售知</tspan><tspan x="181" dy="12.75">识非常缺乏，我的工作可以说是很难入手的。</tspan><tspan x="181" dy="12.75">前两个月，我都是在王总结监和莫经理的带领</tspan><tspan x="181" dy="12.75">下进行客户谈判、分析客户情况的、所以在销</tspan><tspan x="181" dy="12.75">售中遇到难谈下来的客户或对比车型优势对比</tspan><tspan x="181" dy="12.75">的时候我总结想到他们。正因为有了他们在销</tspan><tspan x="181" dy="12.75">售技巧、谈判工作中的帮助，还有前期这些经</tspan><tspan x="181" dy="12.75">验做铺垫，所以八月份我才能顺利的在岗位中</tspan><tspan x="181" dy="12.75">独立开展工作，整个学习的过程，可以说完全</tspan><tspan x="181" dy="12.75">是两个领导言传身教的果。</tspan></text></g>
<g id="b2-c2"><rect class="f2" x="289" y="1271" width="94" height="22" rx="4"/><text class="t k2" x="294" y="1286">2）职业心态的调整</text></g>
<g id="b2-c2leaf"><rect class="f2" x="63" y="1240" width="207" height="84" rx="4"/><text class="t k2" x="68" y="1254.5"><tspan x="68">销售员的一天应该从清晨睁开第一眼开始，每</tspan><tspan x="68" dy="12.75">天早上我都会从自己定的欢快激进的闹铃声中</tspan><tspan x="68" dy="12.75">醒来，然后以精神充沛、快乐的心态迎接一天</tspan><tspan x="68" dy="12.75">的工作。如果我没有别人经验多，那么我和别</tspan><tspan x="68" dy="12.75">人比诚信；如果我没有别人单子多，那么我和</tspan><tspan x="68" dy="12.75">别人比服务。</tspan></text></g>
<g id="b2-c3"><rect class="f2" x="176" y="1347" width="207" height="110" rx="4"/><text class="t k2" x="181" y="1361.5"><tspan x="181">3）重点客户的开展。我在这里想说一下：我</tspan><tspan x="181" dy="12.75">们要把b类的客户当成a类来接待，就这样我</tspan><tspan x="181" dy="12.75">们才比其他人多一个a类，多一个a类就多一</tspan><tspan x="181" dy="12.75">个机会。拜访，对客户做到每周至少三次的拜</tspan><tspan x="181" dy="12.75">访。我认为攻客户和制定目标是一样的，首先</tspan><tspan x="181" dy="12.75">要集中精力去做一个客户，只有这样才能有收</tspan><tspan x="181" dy="12.75">效，等重点客户认可了，我再将精力转移到第</tspan><tspan x="181" dy="12.75">二重点客户上。</tspan></text></g>
<g id="b2-c4"><rect class="f2" x="269" y="1505" width="114" height="21" rx="4"/><text class="t k2" x="274" y="1519.5">4）自己工作中的不足：</text></g>
<g id="b2-c4leaf"><rect class="f2" x="43" y="1480" width="207" height="72" rx="4"/><text class="t k2" x="48" y="1494.5"><tspan x="48">在销售工作中也有急于成交的表现，不但影响</tspan><tspan x="48" dy="12.75">了自己销售业务的开展，也打击了自己的自信</tspan><tspan x="48" dy="12.75">心。我想在以后的工作中会摒弃这些不良的做</tspan><tspan x="48" dy="12.75">法，并积极学学习、请教老销售员业务知识，</tspan><tspan x="48" dy="12.75">尽快提高自己的销售技能。</tspan></text></g>
<g id="b2-s2"><rect class="f2" x="526" y="1720" width="113" height="22" rx="4"/><text class="t k2" x="531" y="1735">二、第4季度的工作开展</text></g>
<g id="b2-d1"><rect class="f2" x="299" y="1575" width="207" height="72" rx="4"/><text class="t k2" x="304" y="1589.5"><tspan x="304">公司在发展过程中，我认为要成为一名合格的</tspan><tspan x="304" dy="12.75">销售员，首先要调整自己的理念，和公司统一</tspan><tspan x="304" dy="12.75">思想、统一目标，明确公司的发展方向，才能</tspan><tspan x="304" dy="12.75">充分溶入到公司的发展当中，才能更加有条不</tspan><tspan x="304" dy="12.75">紊的开展工作。</tspan></text></g>
<g id="b2-d2"><rect class="f2" x="299" y="1669" width="207" height="47" rx="4"/><text class="t k2" x="304" y="1683.5"><tspan x="304">首先，从理念上：我应该和公司保持一致的经</tspan><tspan x="304" dy="12.75">营思想、经营理念，与公司高层统一目标和认</tspan><tspan x="304" dy="12.75">识，协助公司促进企业文化方面的建设。</tspan></text></g>
<g id="b2-d3"><rect class="f2" x="299" y="1739" width="207" height="59" rx="4"/><text class="t k2" x="304" y="1753.5"><tspan x="304">第二，业务上：了解客户的资料务、兴趣爱好</tspan><tspan x="304" dy="12.75">、家庭情况等，挖掘客户需求，投其所好，搞</tspan><tspan x="304" dy="12.75">好客户关系，随时掌握信息，力争第4季度要</tspan><tspan x="304" dy="12.75">比3季度翻一翻。</tspan></text></g>
<g id="b2-d4"><rect class="f2" x="299" y="1821" width="207" height="60" rx="4"/><text class="t k2" x="304" y="1835.5"><tspan x="304">第三，意识上：无论在销售还是汽车产品知识</tspan><tspan x="304" dy="12.75">的学习上，摒弃自私、强势、懒惰的性情，用</tspan><tspan x="304" dy="12.75">积极向上的心态，学习他人的长处，学会谦虚</tspan><tspan x="304" dy="12.75">，学会与上司、朋友、同事更加融洽的相处；</tspan></text></g>
<g id="b2-final"><rect class="f2" x="94" y="1840" width="186" height="22" rx="4"/><text class="t k2" x="99" y="1855">最后我希望第4季度公司的业绩更加辉煌!</text></g>

<!-- Branch 4 -->
<g id="b4"><rect x="885" y="2298" width="243" height="46" rx="23" fill="#c04a12"/><text class="h w" x="908" y="2317"><tspan x="908">销售季度的工作总结范文怎么写（</tspan><tspan x="908" dy="16.5">精选篇4）</tspan></text></g>
<g id="b4-body"><rect class="f4" x="659" y="2285" width="207" height="73" rx="4"/><text class="t k4" x="664" y="2299.5"><tspan x="664">做化妆品销售3年多了，学习别人经验精华的</tspan><tspan x="664" dy="12.75">同时，自己也在不停总结经验，改进缺点。我</tspan><tspan x="664" dy="12.75">觉得只要努力的做好了每天的工作，我们的销</tspan><tspan x="664" dy="12.75">售量就不会上不去。对与每天的工作我总结了</tspan><tspan x="664" dy="12.75">以下几点：</tspan></text></g>
<g id="b4-1"><rect class="f4" x="432" y="1903" width="208" height="98" rx="4"/><text class="t k4" x="437" y="1917.5"><tspan x="437">一、店面的整体形象就是店铺的"脸面"，要让</tspan><tspan x="437" dy="12.75">它每天给顾客干净整洁的感觉，每一个小细节</tspan><tspan x="437" dy="12.75">都做到完美。从顾客从前面路过就想要停下来</tspan><tspan x="437" dy="12.75">看一看；具体的做法是:开门的第一件事是自</tspan><tspan x="437" dy="12.75">己站在店铺的外面仔细观察一下店铺整体的感</tspan><tspan x="437" dy="12.75">觉和卫生，包括门两侧和门玻璃，自己如果看</tspan><tspan x="437" dy="12.75">着舒服了，顾客才会舒服。</tspan></text></g>
<g id="b4-2"><rect class="f4" x="432" y="2024" width="208" height="71" rx="4"/><text class="t k4" x="437" y="2038.5"><tspan x="437">二、店铺内部的卫生很重要，展示品和货柜决</tspan><tspan x="437" dy="12.75">不能有灰尘，地板要光洁。每天坚持仔细搞好</tspan><tspan x="437" dy="12.75">清洁卫生，让顾客无论从哪个角度看展示品都</tspan><tspan x="437" dy="12.75">会感到和舒适。擦好地面，给顾客整体的整洁</tspan><tspan x="437" dy="12.75">感。</tspan></text></g>
<g id="b4-3"><rect class="f4" x="432" y="2119" width="208" height="45" rx="4"/><text class="t k4" x="437" y="2133.5"><tspan x="437">三、产品的摆放要美观，这样不仅提高了产品</tspan><tspan x="437" dy="12.75">的档次，还会让顾客一目了然。每天根据每天</tspan><tspan x="437" dy="12.75">的主打产品的颜色大小调整位置品系的搭配。</tspan></text></g>
<g id="b4-4"><rect class="f4" x="432" y="2194" width="208" height="33" rx="4"/><text class="t k4" x="437" y="2208.5"><tspan x="437">四、店员的个人形象妆容要得体，因为好的形</tspan><tspan x="437" dy="12.75">象妆容销售的过程中更有说服力。</tspan></text></g>
<g id="b4-4note"><rect class="f4" x="206" y="2188" width="207" height="46" rx="4"/><text class="t k4" x="211" y="2202.5"><tspan x="211">尤其是漂亮的彩妆更能助彩妆品的销售。每个</tspan><tspan x="211" dy="12.75">店员在上班之前必须化精致的妆，相互检查仪</tspan><tspan x="211" dy="12.75">表和妆容。</tspan></text></g>
<g id="b4-5"><rect class="f4" x="432" y="2257" width="208" height="84" rx="4"/><text class="t k4" x="437" y="2271.5"><tspan x="437">五、我们热情的服务加上专业语言都很重要。</tspan><tspan x="437" dy="12.75">没有什么人会拒绝你的热情的，即使她们今天</tspan><tspan x="437" dy="12.75">不买，因为你很热情，很专业，相信有一天她</tspan><tspan x="437" dy="12.75">还再来。把所有人都当作是潜在的客户，用最</tspan><tspan x="437" dy="12.75">专业的知识去讲解销售，给顾客宾至如归的感</tspan><tspan x="437" dy="12.75">觉。</tspan></text></g>
<g id="b4-6"><rect class="f4" x="432" y="2364" width="208" height="85" rx="4"/><text class="t k4" x="437" y="2378.5"><tspan x="437">六、做好每天的顾客档案，坚持每天都办新会</tspan><tspan x="437" dy="12.75">员，对新顾客都要仔细记录联系电话，年龄肤</tspan><tspan x="437" dy="12.75">质和工作行业等详细信息。在以后的活动时能</tspan><tspan x="437" dy="12.75">够准确通知，保证回头客。每天都坚持回访老</tspan><tspan x="437" dy="12.75">顾客。约她们回店派发新品试用装以便再次销</tspan><tspan x="437" dy="12.75">售。</tspan></text></g>
<g id="b4-7"><rect class="f4" x="432" y="2471" width="208" height="73" rx="4"/><text class="t k4" x="437" y="2485.5"><tspan x="437">七、虚心听取每个顾客的意见或者建议，那样</tspan><tspan x="437" dy="12.75">有助于我们更好的完善店面。每天顾客的意见</tspan><tspan x="437" dy="12.75">和建议要分类记录清楚，那是我们以后工作改</tspan><tspan x="437" dy="12.75">进的方向，并且也会让顾客对我们品牌更有好</tspan><tspan x="437" dy="12.75">感。</tspan></text></g>
<g id="b4-8"><rect class="f4" x="432" y="2567" width="208" height="73" rx="4"/><text class="t k4" x="437" y="2581.5"><tspan x="437">八、尽量每天多销售些。具体的工作是，向更</tspan><tspan x="437" dy="12.75">多的顾客去销售产品，和向每个顾客销售更多</tspan><tspan x="437" dy="12.75">的产品，积少成多。这点是提高销售的两种方</tspan><tspan x="437" dy="12.75">法，如果你细心耐心的做了，顾客会感觉得到</tspan><tspan x="437" dy="12.75">很细心周到的服务了。</tspan></text></g>
<g id="b4-9"><rect class="f4" x="432" y="2662" width="208" height="58" rx="4"/><text class="t k4" x="437" y="2676.5"><tspan x="437">九、每晚工作结束前要补全所缺产品。具体的</tspan><tspan x="437" dy="12.75">工作是，清点账目上一天的销售量以及存货，</tspan><tspan x="437" dy="12.75">及时的补上存量很少的产品，以方便第二天的</tspan><tspan x="437" dy="12.75">销售工作正常顺利。</tspan></text></g>
<g id="b4-9note"><rect class="f4" x="206" y="2669" width="207" height="45" rx="4"/><text class="t k4" x="211" y="2683.5"><tspan x="211">这就是我日常的工作，我每天都这样做，一个</tspan><tspan x="211" dy="12.75">季度下来我觉得我成长的非常快，学习到了很</tspan><tspan x="211" dy="12.75">多知识。对销售行业有了更多的认识。</tspan></text></g>
</svg>
